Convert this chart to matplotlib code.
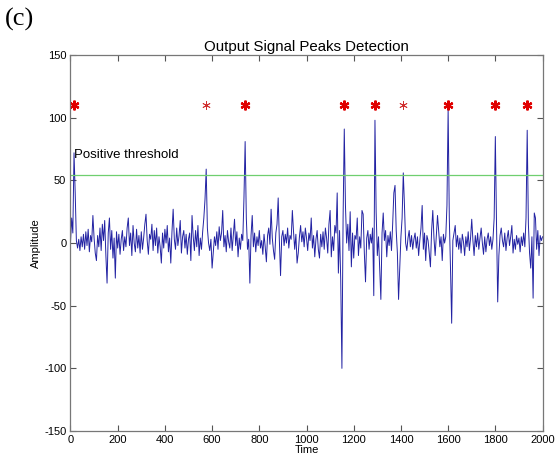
import numpy as np
import matplotlib
matplotlib.use("Agg")
import matplotlib.pyplot as plt

# output signal, every 5 time units (0 .. 2000)
amplitude = [
    0, 20, 8, 72, 40, 2, -4, 3, -6, 5, -3, 7, -5, 9, -2, 11, -7, 6, 1, 22,
    4, -8, -14, 6, -3, 12, -6, 15, 2, 18, -10, -32, 8, 20, -5, 10, -12, 4, -28, 9,
    -4, 7, -9, 3, 10, -6, 5, -3, 12, 20, -2, 8, -10, 14, 0, -7, 11, -4, 6, -8,
    9, -5, 4, 15, 23, 2, -9, 7, 3, 15, -6, 10, -2, 12, -8, 5, -3, -16, 8, -4,
    11, 0, 14, -7, 4, -16, 9, 27, 3, -5, 12, -2, 6, 18, -8, 5, 10, -4, 7, -9,
    3, 8, -14, 22, 5, -6, 10, -3, 14, -10, 4, -5, 9, 20, 35, 59, 12, 0, -6, 3,
    -20, -8, 5, -2, 9, -5, 13, 2, 8, 26, -3, 6, -7, 10, 1, -4, 12, -6, 7, 19,
    -2, 9, -11, 4, -5, 7, 2, 36, 81, 20, -5, 3, -32, 6, 22, -3, 8, -7, 5, -2,
    10, -4, 2, -9, 7, -3, -15, 6, 12, -1, 27, 4, -6, -13, 8, 15, 36, 2, -26, 5,
    10, -2, 7, 0, 12, -4, 6, 3, 26, 9, -5, 7, -16, -8, 5, 14, 1, 9, -3, 12,
    4, -6, 8, 2, 20, -4, 6, -11, 3, 10, -5, -12, 7, -3, 9, -5, 12, 4, -8, 15,
    26, -11, 5, -6, 14, 8, 40, -24, 10, -30, -100, 20, 91, 30, 0, 15, -6, 25, -19, 8,
    -12, 6, 3, 20, -10, 5, -4, 26, 23, -8, -31, 4, 10, -5, 7, 0, 12, -42, 98, 25,
    -10, 5, -20, -45, 8, 24, 2, 10, -11, 6, -2, 9, -6, 15, 40, 46, 10, -8, -45, -20,
    5, 20, 56, 30, 0, -6, 4, 10, -3, 6, -5, 3, 8, -4, 5, -10, 2, 12, 30, -5,
    8, -14, 6, 2, -8, -19, 10, 26, 4, -10, 6, 22, 9, -3, 5, -14, 7, 0, 5, 30,
    107, 20, -20, -64, 2, 8, 14, -3, 6, -5, 4, -8, 7, 1, -10, 5, -3, 9, -6, 4,
    19, 2, -10, 6, -3, 8, -5, 4, 12, 0, -9, 5, -7, 3, 8, -2, 5, -5, 3, 20,
    85, 15, -47, -10, 6, 12, 2, -3, 8, -6, 4, 10, -2, 5, 14, -8, 3, -5, 6, -1,
    4, -7, 5, -2, 8, -3, 20, 90, 15, -8, -20, 5, -44, 24, 20, -5, 10, -10, 6, 2,
    5,
]
step = 5

threshold = 54

# detected peaks
peak_times_bold = [15, 740, 1160, 1290, 1600, 1800, 1935]
peak_times_thin = [575, 1410]
marker_level = 110

time = np.arange(len(amplitude)) * step

plt.rcParams['font.family'] = ['Liberation Sans', 'DejaVu Sans']
plt.rcParams['axes.unicode_minus'] = False

fig = plt.figure(figsize=(5.58, 4.59), dpi=100)
ax = fig.add_axes([0.1263, 0.061, 0.846, 0.819])

ax.plot(time, amplitude, color='#2323a3', linewidth=0.7)
ax.plot([0, 2000], [threshold, threshold], color='#6fcf6f', linewidth=0.9)

# asterisk markers
ax.plot(peak_times_bold, [marker_level] * len(peak_times_bold), linestyle='none',
        marker=(6, 2, 0), markersize=7, color='#e00000', markeredgewidth=1.6)
ax.plot(peak_times_thin, [marker_level] * len(peak_times_thin), linestyle='none',
        marker=(6, 2, 0), markersize=6, color='#d03030', markeredgewidth=0.6)

ax.text(15, 68, 'Positive threshold', fontsize=9.5, color='black')

ax.set_xlim(0, 2000)
ax.set_ylim(-150, 150)
ax.set_xticks(np.arange(0, 2001, 200))
ax.set_yticks(np.arange(-150, 151, 50))
ax.tick_params(direction='in', length=4, width=0.8, colors='#555555',
               labelcolor='black', labelsize=8, top=True, right=True, pad=3)
for s in ax.spines.values():
    s.set_color('#777777')
    s.set_linewidth(0.9)

ax.set_title('Output Signal Peaks Detection', fontsize=10.8, pad=3)
ax.set_xlabel('Time', fontsize=8, labelpad=0)
ax.set_ylabel('Amplitude', fontsize=8, labelpad=2)

fig.text(0.008, 0.958, '(c)', family=['Liberation Serif', 'DejaVu Serif'],
         fontsize=19, va='center')

fig.savefig('out.png', dpi=100)
